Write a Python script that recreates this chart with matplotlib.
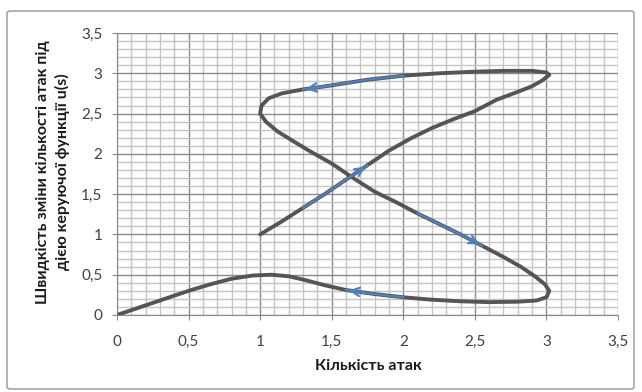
import matplotlib
matplotlib.use("Agg")
import matplotlib.pyplot as plt
from matplotlib.patches import FancyBboxPatch
from matplotlib.ticker import MultipleLocator, FuncFormatter

# trajectory points (x = attacks count, y = rate), in drawing order
traj_x = [1.00, 1.15, 1.30, 1.45, 1.60, 1.75, 1.90, 2.05, 2.20, 2.35,
          2.50, 2.65, 2.80, 2.90, 2.97, 3.02, 3.00, 2.90, 2.70, 2.50,
          2.25, 2.00, 1.75, 1.50, 1.30, 1.15, 1.06, 1.01, 1.00, 1.04,
          1.12, 1.22, 1.35, 1.50, 1.65, 1.80, 1.95, 2.10, 2.25, 2.40,
          2.55, 2.70, 2.82, 2.92, 2.99, 3.02, 3.00, 2.93, 2.80, 2.60,
          2.40, 2.20, 2.00, 1.80, 1.60, 1.45, 1.30, 1.20, 1.08, 0.95,
          0.80, 0.65, 0.50, 0.35, 0.20, 0.00]
traj_y = [1.00, 1.16, 1.33, 1.50, 1.68, 1.86, 2.04, 2.19, 2.32, 2.43,
          2.53, 2.67, 2.77, 2.84, 2.91, 2.98, 3.01, 3.03, 3.03, 3.02,
          3.00, 2.97, 2.92, 2.85, 2.80, 2.75, 2.69, 2.60, 2.50, 2.40,
          2.28, 2.17, 2.03, 1.88, 1.70, 1.53, 1.40, 1.26, 1.13, 1.00,
          0.86, 0.72, 0.60, 0.48, 0.38, 0.30, 0.22, 0.18, 0.165, 0.16,
          0.17, 0.19, 0.22, 0.26, 0.31, 0.37, 0.44, 0.48, 0.50, 0.49,
          0.45, 0.38, 0.30, 0.21, 0.12, 0.00]

# direction arrows: (start index, end index) along the trajectory
arrow_segments = [(2, 5), (21, 24), (37, 40), (52, 54)]

x_label = "Кількість атак"
y_label = "Швидкість зміни кількості атак під\nдією керуючої функції u(s)"

plt.rcParams['font.family'] = ['Lato', 'DejaVu Sans']

fig = plt.figure(figsize=(6.42, 3.92), dpi=100)
fig.patch.set_facecolor('white')
border = FancyBboxPatch((7/642, 3/392), 627/642, 378/392,
                        boxstyle="round,pad=0,rounding_size=0.006",
                        transform=fig.transFigure, fill=False,
                        edgecolor='#a6a6a6', linewidth=1.2)
fig.patches.append(border)

ax = fig.add_axes([117/642, 1 - 315/392, 501/642, 282/392])
ax.set_xlim(0, 3.5)
ax.set_ylim(0, 3.5)
ax.xaxis.set_major_locator(MultipleLocator(0.5))
ax.yaxis.set_major_locator(MultipleLocator(0.5))
ax.xaxis.set_minor_locator(MultipleLocator(0.1))
ax.yaxis.set_minor_locator(MultipleLocator(0.1))
fmt = FuncFormatter(lambda v, p: ("%g" % v).replace('.', ','))
ax.xaxis.set_major_formatter(fmt)
ax.yaxis.set_major_formatter(fmt)

ax.grid(which='minor', color='#c4c4c4', linewidth=1.0)
ax.grid(which='major', color='#8a8a8a', linewidth=1.0)
ax.set_axisbelow(True)
for s in ['top', 'right']:
    ax.spines[s].set_visible(False)
for s in ['left', 'bottom']:
    ax.spines[s].set_color('#8a8a8a')
ax.tick_params(which='major', length=3.5, color='#8a8a8a', labelsize=11,
               labelcolor='#404040')
ax.tick_params(axis='x', which='major', pad=11)
ax.tick_params(axis='y', which='major', pad=7)
ax.tick_params(which='minor', length=0)

ax.plot(traj_x, traj_y, color='#555555', linewidth=2.8,
        solid_capstyle='round', solid_joinstyle='round', zorder=3)

for i0, i1 in arrow_segments:
    ax.plot(traj_x[i0:i1 + 1], traj_y[i0:i1 + 1], color='#4f81bd',
            linewidth=1.6, zorder=4)
    ax.annotate('', xy=(traj_x[i1], traj_y[i1]),
                xytext=(traj_x[i1 - 1], traj_y[i1 - 1]),
                arrowprops=dict(arrowstyle='->,head_length=0.6,head_width=0.3',
                                color='#4f81bd', lw=1.6), zorder=5)

fig.text(368/642, 1 - 366/392, x_label, fontsize=11.5, fontweight='bold',
         color='#1a1a1a', ha='center', va='center')
fig.text(53/642, 1 - 172/392, y_label, fontsize=11.5, fontweight='bold',
         color='#1a1a1a', ha='center', va='center', rotation=90,
         multialignment='center', linespacing=1.4)

fig.savefig('out.png', dpi=100, facecolor='white')
